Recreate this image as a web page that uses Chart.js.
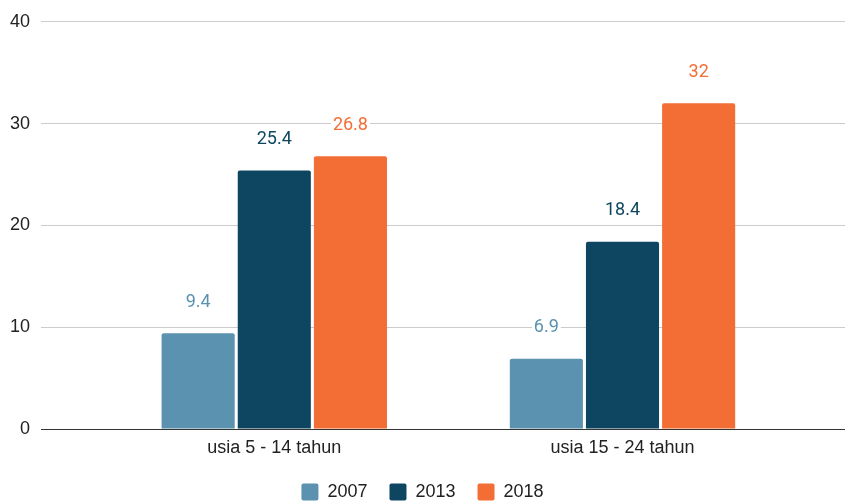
<!DOCTYPE html>
<html><head><meta charset="utf-8">
<script src="https://cdn.jsdelivr.net/npm/chart.js@4"></script>
<style>html,body{margin:0;padding:0;background:#fff}#wrap{width:845px;height:504px;position:relative}</style>
</head><body><div id="wrap"><canvas id="c"></canvas></div>
<script>
const categories = ['usia 5 - 14 tahun', 'usia 15 - 24 tahun'];
const seriesNames = ['2007', '2013', '2018'];
const values2007 = [9.4, 6.9];
const values2013 = [25.4, 18.4];
const values2018 = [26.8, 32];
const yTicks = [0, 10, 20, 30, 40];

const seriesValues = [values2007, values2013, values2018];
const seriesColors = ['#5a92b0', '#0e4661', '#f26e35'];
const LABEL_FONT = 'Roboto, "Liberation Sans", sans-serif';
const AXIS_FONT = '"Liberation Sans", Arial, sans-serif';

const datasets = seriesNames.map((name, s) => ({
  label: name,
  data: seriesValues[s].map((v, i) => ({ x: i, y: v })),
  backgroundColor: seriesColors[s],
  borderWidth: 0,
  borderRadius: { topLeft: 2, topRight: 2, bottomLeft: 0, bottomRight: 0 },
  borderSkipped: 'bottom',
  categoryPercentage: 0.656,
  barPercentage: 0.96
}));

const valueLabels = {
  id: 'valueLabels',
  afterDatasetsDraw(chart) {
    const ctx = chart.ctx;
    ctx.save();
    ctx.font = '18px ' + LABEL_FONT;
    ctx.textAlign = 'center';
    ctx.textBaseline = 'middle';
    chart.data.datasets.forEach((ds, di) => {
      const meta = chart.getDatasetMeta(di);
      meta.data.forEach((bar, i) => {
        const text = String(seriesValues[di][i]);
        const x = bar.x, y = bar.y - 31;
        const w = ctx.measureText(text).width;
        ctx.fillStyle = '#ffffff';
        ctx.fillRect(x - w / 2 - 2, y - 9, w + 4, 18);
        ctx.fillStyle = seriesColors[di];
        ctx.fillText(text, x, y);
      });
    });
    ctx.restore();
  }
};

new Chart(document.getElementById('c'), {
  type: 'bar',
  data: { datasets },
  plugins: [valueLabels],
  options: {
    responsive: true,
    maintainAspectRatio: false,
    animation: false,
    layout: { padding: { top: 20, right: 0, bottom: 0, left: 0 } },
    plugins: {
      tooltip: { enabled: false },
      legend: {
        position: 'bottom',
        maxHeight: 43,
        labels: {
          boxWidth: 17,
          boxHeight: 17,
          padding: 22,
          useBorderRadius: true,
          borderRadius: 2,
          color: '#222',
          font: { size: 18, family: AXIS_FONT }
        }
      }
    },
    scales: {
      x: {
        type: 'linear',
        offset: false,
        min: -0.67,
        max: 1.639,
        afterBuildTicks: (axis) => { axis.ticks = categories.map((c, i) => ({ value: i })); },
        afterFit: (scale) => { scale.height = 32; },
        grid: { display: false, drawTicks: false },
        border: { display: true, color: '#333', width: 1 },
        ticks: {
          autoSkip: false,
          maxRotation: 0,
          padding: 8,
          color: '#222',
          font: { size: 18, family: AXIS_FONT },
          callback: (v) => categories[v] !== undefined ? categories[v] : ''
        }
      },
      y: {
        min: yTicks[0],
        max: yTicks[yTicks.length - 1],
        afterBuildTicks: (axis) => { axis.ticks = yTicks.map(v => ({ value: v })); },
        afterFit: (scale) => { scale.width = 41; },
        grid: {
          drawTicks: false,
          color: (c) => c.tick && c.tick.value === 0 ? '#333' : '#cccccc',
          lineWidth: 1
        },
        border: { display: false },
        ticks: {
          padding: 11,
          color: '#222',
          font: { size: 18, family: AXIS_FONT }
        }
      }
    }
  }
});
</script>
</body></html>
